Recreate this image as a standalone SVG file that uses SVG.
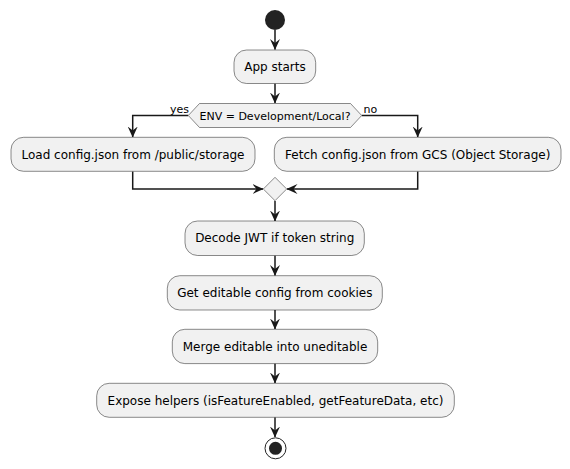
<svg xmlns="http://www.w3.org/2000/svg" width="570" height="469" viewBox="0 0 570 469">
<defs>
<style>
.box{fill:#F1F1F1;stroke:#181818;stroke-width:0.5}
.t{font-family:"DejaVu Sans",sans-serif;font-size:12px;fill:#000;text-anchor:middle}
.s{font-family:"DejaVu Sans",sans-serif;font-size:11px;fill:#000}
.ln{fill:none;stroke:#181818;stroke-width:1.5}
</style>
<marker id="arr" viewBox="0 0 11 12" refX="10.5" refY="6" markerWidth="11" markerHeight="12" markerUnits="userSpaceOnUse" orient="auto">
<path d="M0,1 L11,6 L0,11 L4,6 Z" fill="#181818"/>
</marker>
</defs>
<rect width="570" height="469" fill="#FFFFFF"/>
<g id="connectors">
<path class="ln" d="M275,30 V49.5" marker-end="url(#arr)"/>
<path class="ln" d="M275,83.5 V103" marker-end="url(#arr)"/>
<path class="ln" d="M188.3,115.5 H132.7 V137" marker-end="url(#arr)"/>
<path class="ln" d="M361.7,115.5 H417.7 V137" marker-end="url(#arr)"/>
<path class="ln" d="M132.7,171.5 V189 H263" marker-end="url(#arr)"/>
<path class="ln" d="M417.7,171.5 V189 H287" marker-end="url(#arr)"/>
<path class="ln" d="M275,201 V221" marker-end="url(#arr)"/>
<path class="ln" d="M275,255.5 V275.5" marker-end="url(#arr)"/>
<path class="ln" d="M275,310 V329" marker-end="url(#arr)"/>
<path class="ln" d="M275,363.5 V383" marker-end="url(#arr)"/>
<path class="ln" d="M275,417.3 V437" marker-end="url(#arr)"/>
<text class="s" x="170" y="112.5">yes</text>
<text class="s" x="363.5" y="112.5">no</text>
</g>
<g id="start"><circle cx="275" cy="20" r="10" fill="#222222"/></g>
<g id="app-starts">
<rect class="box" x="234" y="50" width="81.7" height="33.5" rx="12.5"/>
<text class="t" x="275" y="71.2">App starts</text>
</g>
<g id="decision">
<polygon class="box" points="188.3,115.5 199.5,103.5 350.5,103.5 361.7,115.5 350.5,127.5 199.5,127.5"/>
<text class="s" x="275" y="119.5" text-anchor="middle">ENV = Development/Local?</text>
</g>
<g id="load">
<rect class="box" x="11" y="137.3" width="244" height="34" rx="12.5"/>
<text class="t" x="133" y="158.6">Load config.json from /public/storage</text>
</g>
<g id="fetch">
<rect class="box" x="274.3" y="137.3" width="286.7" height="34" rx="12.5"/>
<text class="t" x="417.7" y="158.6">Fetch config.json from GCS (Object Storage)</text>
</g>
<g id="merge-point">
<polygon class="box" points="275,177.3 286.7,189 275,200.7 263.3,189"/>
</g>
<g id="decode">
<rect class="box" x="185" y="221" width="179.3" height="34.5" rx="12.5"/>
<text class="t" x="274.7" y="242.4">Decode JWT if token string</text>
</g>
<g id="get-editable">
<rect class="box" x="167.3" y="275.7" width="215" height="34.3" rx="12.5"/>
<text class="t" x="274.8" y="297">Get editable config from cookies</text>
</g>
<g id="merge">
<rect class="box" x="172.3" y="329.3" width="205.4" height="34.3" rx="12.5"/>
<text class="t" x="275" y="350.6">Merge editable into uneditable</text>
</g>
<g id="expose">
<rect class="box" x="96.7" y="383.3" width="357.6" height="34" rx="12.5"/>
<text class="t" x="275.5" y="404.6">Expose helpers (isFeatureEnabled, getFeatureData, etc)</text>
</g>
<g id="end">
<circle cx="275.5" cy="448.3" r="10.5" fill="none" stroke="#222222" stroke-width="1"/>
<circle cx="275.5" cy="448.3" r="6.5" fill="#222222"/>
</g>
</svg>
